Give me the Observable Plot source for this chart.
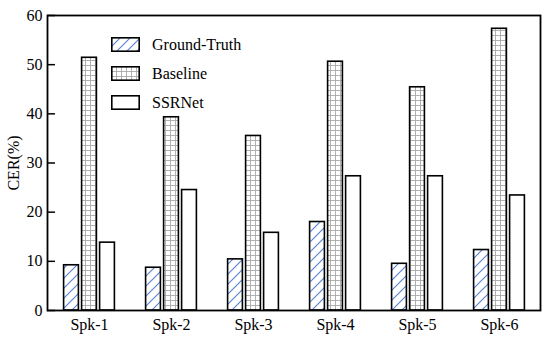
<!DOCTYPE html>
<html>
<head>
<meta charset="utf-8">
<script src="https://cdn.jsdelivr.net/npm/d3@7"></script>
<script src="https://cdn.jsdelivr.net/npm/@observablehq/plot@0.6"></script>
<style>
  html, body { margin: 0; padding: 0; background: white; }
  #wrap { position: relative; width: 550px; height: 340px; font-family: "Liberation Serif", Tinos, "Times New Roman", Times, "DejaVu Serif", serif; }
  #legend { position: absolute; left: 111px; top: 37px; font-size: 16px; color: black; }
  .row { display: flex; align-items: flex-start; height: 29px; }
  .row svg { display: block; margin-right: 12px; }
  .row span { line-height: 15px; display: block; }
</style>
</head>
<body>
<svg width="0" height="0" style="position:absolute">
  <defs>
    <pattern id="hatch" patternUnits="userSpaceOnUse" width="10" height="10">
      <rect width="10" height="10" fill="white"/>
      <path d="M-2,2 L2,-2 M0,10 L10,0 M8,12 L12,8" stroke="#5b86d6" stroke-width="1.2"/>
    </pattern>
    <pattern id="grid" patternUnits="userSpaceOnUse" width="5" height="5">
      <rect width="5" height="5" fill="white"/>
      <path d="M0,0.5 L5,0.5 M0.5,0 L0.5,5" stroke="#a8a8a8" stroke-width="0.9"/>
    </pattern>
  </defs>
</svg>
<div id="wrap"></div>
<script>
const speakers = ["Spk-1", "Spk-2", "Spk-3", "Spk-4", "Spk-5", "Spk-6"];
const seriesNames = ["Ground-Truth", "Baseline", "SSRNet"];
const groundTruth = [9.2, 8.7, 10.4, 18.0, 9.5, 12.3];
const baseline = [51.4, 39.3, 35.5, 50.6, 45.4, 57.3];
const ssrnet = [13.8, 24.5, 15.8, 27.3, 27.3, 23.4];
const yTicks = [0, 10, 20, 30, 40, 50, 60];

const fontStack = '"Liberation Serif", Tinos, "Times New Roman", Times, "DejaVu Serif", serif';
const fills = {"Ground-Truth": "url(#hatch)", "Baseline": "url(#grid)", "SSRNet": "white"};
const offsets = {"Ground-Truth": -18, "Baseline": 0, "SSRNet": 18};
const values = {"Ground-Truth": groundTruth, "Baseline": baseline, "SSRNet": ssrnet};

const barMarks = seriesNames.map(s =>
  Plot.barY(speakers.map((sp, i) => ({speaker: sp, value: values[s][i]})), {
    x: "speaker", y: "value",
    fill: fills[s], stroke: "black", strokeWidth: 1.6,
    insetLeft: 33.6, insetRight: 33.6, dx: offsets[s]
  })
);

const chart = Plot.plot({
  width: 550, height: 340,
  marginLeft: 47, marginRight: 10, marginTop: 15, marginBottom: 30,
  style: {fontFamily: fontStack, fontSize: "16px", background: "white", color: "black", overflow: "visible"},
  x: {domain: speakers, padding: 0, label: null},
  y: {domain: [0, 60]},
  marks: [
    ...barMarks,
    Plot.axisX({tickSize: 0, tickPadding: 8, label: null, fontFamily: fontStack}),
    Plot.axisY(yTicks, {tickSize: -8, tickPadding: 13, strokeWidth: 1.5, label: "CER(%)", labelAnchor: "center", labelOffset: 40, labelArrow: "none", fontFamily: fontStack}),
    Plot.frame({stroke: "black", strokeWidth: 1.8})
  ]
});

const wrap = document.getElementById("wrap");
wrap.appendChild(chart);

const legend = document.createElement("div");
legend.id = "legend";
for (const s of seriesNames) {
  const row = document.createElement("div");
  row.className = "row";
  row.innerHTML = `<svg width="29" height="15"><rect x="0.8" y="0.8" width="27.4" height="13.4" fill="${fills[s]}" stroke="black" stroke-width="1.6"/></svg><span>${s}</span>`;
  legend.appendChild(row);
}
wrap.appendChild(legend);
</script>
</body>
</html>
